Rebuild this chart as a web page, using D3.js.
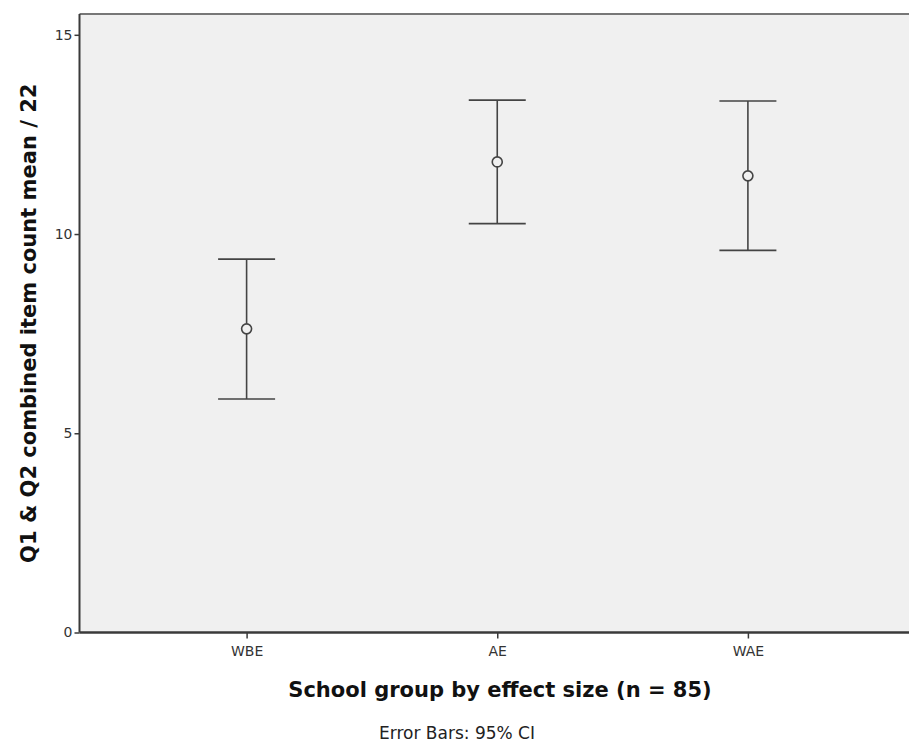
<!DOCTYPE html>
<html><head><meta charset="utf-8">
<script src="https://cdn.jsdelivr.net/npm/d3@7"></script>
<style>body{margin:0;background:#fff}svg{display:block}</style>
</head><body>
<svg id="c" width="909" height="742"></svg>
<script>
const categories = ["WBE", "AE", "WAE"];
const means = [7.62, 11.81, 11.46];
const lower = [5.86, 10.26, 9.59];
const upper = [9.37, 13.36, 13.34];
const yTicks = [0, 5, 10, 15];

const svg = d3.select("#c");
const L = 79.5, T = 14, R = 909, B = 632.5;
const y = d3.scaleLinear().domain([0, 15]).range([B, 34.8]);
const x = d3.scalePoint().domain(categories).range([L, 915]).padding(2/3);
const font = "'DejaVu Sans', sans-serif";
const ink = "#3a3a3a";

svg.append("rect").attr("x", L).attr("y", T).attr("width", R - L).attr("height", B - T).attr("fill", "#f0f0f0");
svg.append("line").attr("x1", L).attr("x2", R).attr("y1", T).attr("y2", T).attr("stroke", "#777").attr("stroke-width", 2);

const yAxis = svg.append("g").attr("transform", `translate(${L},0)`)
  .call(d3.axisLeft(y).tickValues(yTicks).tickSize(5).tickFormat(d3.format("d")));
const xAxis = svg.append("g").attr("transform", `translate(0,${B})`)
  .call(d3.axisBottom(x).tickSize(6));
[yAxis, xAxis].forEach(g => {
  g.select(".domain").remove();
  g.selectAll("line").attr("stroke", ink).attr("stroke-width", 1.5);
  g.selectAll("text").attr("fill", "#333").style("font-family", font).style("font-size", "14px");
});
yAxis.selectAll("text").attr("x", -7);
xAxis.selectAll("text").attr("y", 14);
svg.append("line").attr("x1", L).attr("x2", L).attr("y1", T).attr("y2", B).attr("stroke", ink).attr("stroke-width", 2);
svg.append("line").attr("x1", L).attr("x2", R).attr("y1", B).attr("y2", B).attr("stroke", ink).attr("stroke-width", 2.5);

const data = categories.map((c, i) => ({c, m: means[i], lo: lower[i], hi: upper[i]}));
const cap = 28.5;
const g = svg.append("g").attr("stroke", "#444").attr("stroke-width", 1.6).attr("fill", "none");
g.selectAll(".v").data(data).join("line").attr("x1", d => x(d.c)).attr("x2", d => x(d.c)).attr("y1", d => y(d.hi)).attr("y2", d => y(d.lo));
g.selectAll(".t").data(data).join("line").attr("x1", d => x(d.c) - cap).attr("x2", d => x(d.c) + cap).attr("y1", d => y(d.hi)).attr("y2", d => y(d.hi));
g.selectAll(".b").data(data).join("line").attr("x1", d => x(d.c) - cap).attr("x2", d => x(d.c) + cap).attr("y1", d => y(d.lo)).attr("y2", d => y(d.lo));
g.selectAll("circle").data(data).join("circle").attr("cx", d => x(d.c)).attr("cy", d => y(d.m)).attr("r", 5).attr("fill", "#f0f0f0");

svg.append("text").attr("transform", `translate(36,${(T + B) / 2}) rotate(-90)`).attr("text-anchor", "middle")
  .style("font-family", font).style("font-weight", "bold").style("font-size", "21px").attr("fill", "#111")
  .text("Q1 & Q2 combined item count mean / 22");
svg.append("text").attr("x", 500).attr("y", 697).attr("text-anchor", "middle")
  .style("font-family", font).style("font-weight", "bold").style("font-size", "21px").attr("fill", "#111")
  .text("School group by effect size (n = 85)");
svg.append("text").attr("x", 457).attr("y", 739).attr("text-anchor", "middle")
  .style("font-family", font).style("font-size", "17px").attr("fill", "#222")
  .text("Error Bars: 95% CI");
</script>
</body></html>
